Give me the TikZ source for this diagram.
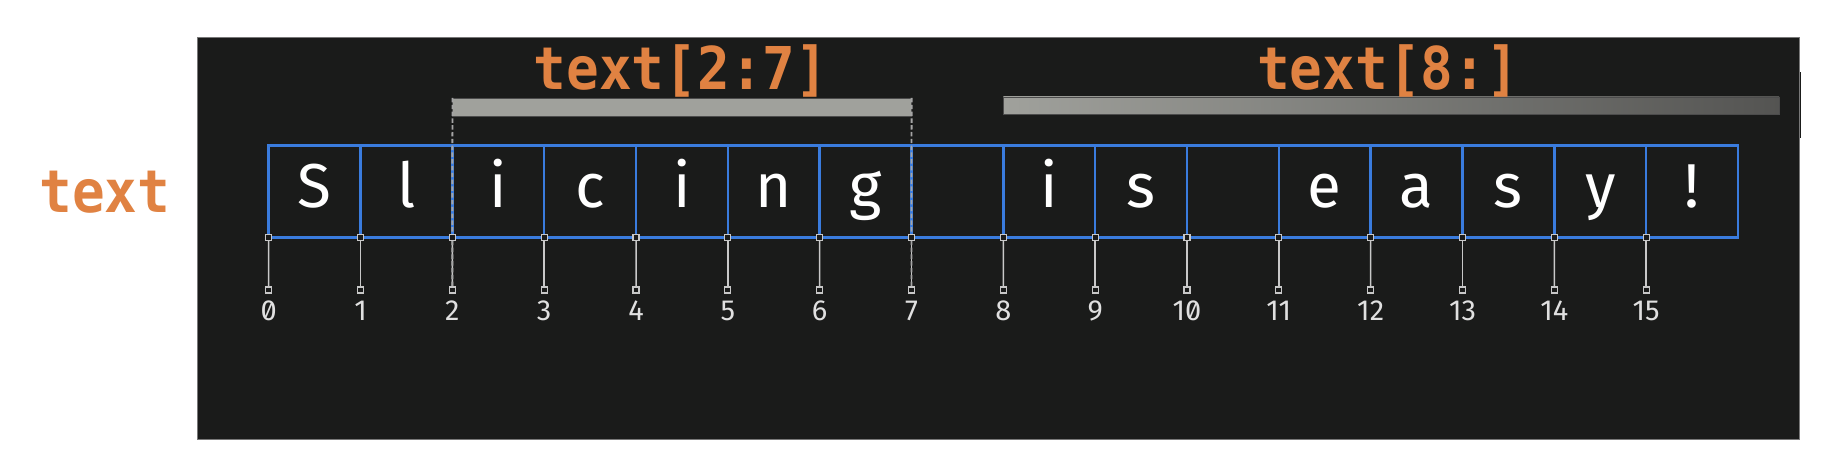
\documentclass[tikz,border=0pt]{standalone}
\usepackage{fontspec}
\setmainfont{Fira Sans}
\newfontfamily\cellfont{Fira Sans}
\newfontfamily\numfont[RawFeature=+zero]{Fira Sans}
\newfontfamily\codefont[FakeStretch=0.92]{DejaVu Sans Mono}
\definecolor{panelbg}{RGB}{26,27,26}
\definecolor{paneledge}{RGB}{120,120,120}
\definecolor{gridblue}{RGB}{58,124,222}
\definecolor{codeorange}{RGB}{224,130,66}
\definecolor{barlight}{RGB}{160,161,156}
\definecolor{bardark}{RGB}{84,84,82}
\definecolor{tickgray}{RGB}{200,200,200}
\definecolor{dashgray}{RGB}{165,165,165}
\tikzset{
  cellbox/.style={draw=gridblue, line width=1.25pt, minimum width=45.915pt, minimum height=45.9pt,
    inner sep=0pt, outer sep=0pt, text=white, font=\cellfont\fontsize{31}{32}\selectfont,
    text height=18pt, text depth=2.5pt},
  codelabel/.style={text=codeorange, font=\codefont\bfseries\fontsize{29.5}{31}\selectfont, inner sep=0pt, anchor=base},
  tickline/.style={draw=tickgray, line width=0.75pt},
  tickmark/.style={draw=tickgray, fill=panelbg, line width=0.55pt, minimum size=3pt, inner sep=0pt},
  ticklabel/.style={text=white!88!black, font=\numfont\fontsize{14.5}{15}\selectfont, inner sep=0pt, anchor=base},
  slicedash/.style={draw=dashgray, line width=0.9pt, dash pattern=on 2.2pt off 1.2pt},
  slicebar/.style={draw=black!70, line width=0.4pt, inner sep=0pt, outer sep=0pt, anchor=north west}
}
\begin{document}
\begin{tikzpicture}[x=0.5pt,y=-0.5pt]
\useasboundingbox (0,0) rectangle (1840,460);
% panel
\fill[panelbg] (1796,72) rectangle (1801,138);
\filldraw[fill=panelbg, draw=paneledge, line width=0.5pt] (197,38) rectangle (1799,439);
% left label
\node[codelabel] (lab) at (105,212) {text};
% cells
\foreach \ch [count=\i from 0] in {S,l,i,c,i,n,g,{},i,s,{},e,a,s,y,!} {
  \node[cellbox] (c\i) at (268.7+91.83*\i+45.915,191.6) {\ch};
}
% bars
\node[slicebar, fill=barlight, minimum width=229.6pt, minimum height=9pt] (b1) at (452.4,98) {};
\node[slicebar, left color=barlight, right color=bardark, minimum width=387.9pt, minimum height=8.5pt] (b2) at (1003.3,97) {};
\node[codelabel] (l1) at (681,90) {text[2:7]};
\node[codelabel] (l2) at (1388,90) {text[8:]};
% ticks
\foreach \i in {0,...,15} {
  \coordinate (t\i) at (268.7+91.83*\i,290);
  \draw[tickline] (c\i.south west) -- (t\i);
}
% slice dashed lines
\draw[slicedash] (b1.north west) -- (t2);
\draw[slicedash] (b1.north east) -- (t7);
\foreach \i in {0,...,15} {
  \node[tickmark] (m\i) at (c\i.south west) {};
  \node[tickmark] (k\i) at (t\i) {};
  \node[ticklabel] (n\i) at (268.7+91.83*\i,320) {\i};
}
\end{tikzpicture}
\end{document}
